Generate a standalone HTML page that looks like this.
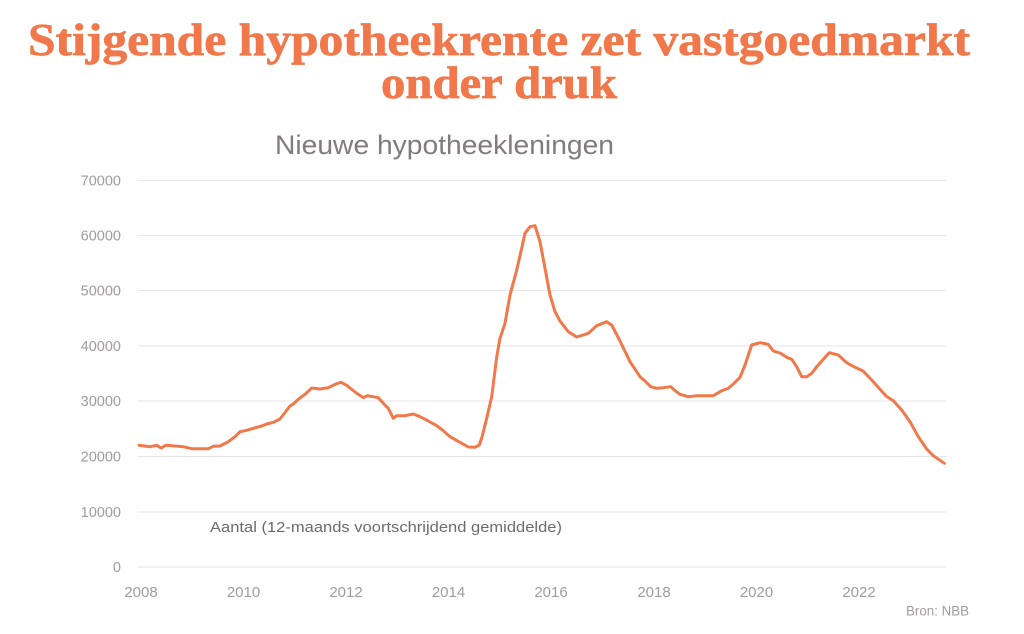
<!DOCTYPE html>
<html>
<head>
<meta charset="utf-8">
<style>
  html,body{margin:0;padding:0;background:#fff;}
  body{width:1024px;height:634px;overflow:hidden;}
  svg{display:block;}
</style>
</head>
<body>
<svg width="1024" height="634" viewBox="0 0 1024 634" xmlns="http://www.w3.org/2000/svg">
  <rect width="1024" height="634" fill="#ffffff"/>
  <!-- Title -->
  <text x="499" y="55" text-anchor="middle" font-family="Liberation Serif, serif" font-weight="bold" font-size="45" fill="#f0784a" stroke="#f0784a" stroke-width="0.7" textLength="942" lengthAdjust="spacingAndGlyphs">Stijgende hypotheekrente zet vastgoedmarkt</text>
  <text x="499" y="98" text-anchor="middle" font-family="Liberation Serif, serif" font-weight="bold" font-size="45" fill="#f0784a" stroke="#f0784a" stroke-width="0.7" textLength="236" lengthAdjust="spacingAndGlyphs">onder druk</text>
  <!-- Subtitle -->
  <text x="275" y="154" font-family="Liberation Sans, sans-serif" font-size="27" fill="#817b7d" textLength="339" lengthAdjust="spacingAndGlyphs">Nieuwe hypotheekleningen</text>

  <!-- Gridlines -->
  <g stroke="#e6e6e6" stroke-width="1">
    <line x1="138" y1="180.5" x2="946" y2="180.5"/>
    <line x1="138" y1="235.5" x2="946" y2="235.5"/>
    <line x1="138" y1="290.5" x2="946" y2="290.5"/>
    <line x1="138" y1="346" x2="946" y2="346"/>
    <line x1="138" y1="401" x2="946" y2="401"/>
    <line x1="138" y1="456.5" x2="946" y2="456.5"/>
    <line x1="138" y1="512" x2="946" y2="512"/>
    <line x1="138" y1="567" x2="946" y2="567"/>
  </g>

  <!-- Y labels -->
  <g font-family="Liberation Sans, sans-serif" font-size="14.5" fill="#a19b9c" text-anchor="end">
    <text x="121" y="185.5">70000</text>
    <text x="121" y="240.5">60000</text>
    <text x="121" y="295.5">50000</text>
    <text x="121" y="351">40000</text>
    <text x="121" y="406">30000</text>
    <text x="121" y="461.5">20000</text>
    <text x="121" y="517">10000</text>
    <text x="121" y="572">0</text>
  </g>

  <!-- X labels -->
  <g font-family="Liberation Sans, sans-serif" font-size="15" fill="#a19b9c" text-anchor="middle">
    <text x="141" y="597">2008</text>
    <text x="243.5" y="597">2010</text>
    <text x="346" y="597">2012</text>
    <text x="448.5" y="597">2014</text>
    <text x="551" y="597">2016</text>
    <text x="654" y="597">2018</text>
    <text x="756.5" y="597">2020</text>
    <text x="859" y="597">2022</text>
  </g>

  <text x="210" y="532" font-family="Liberation Sans, sans-serif" font-size="15" fill="#6f6a6b" textLength="352" lengthAdjust="spacingAndGlyphs">Aantal (12-maands voortschrijdend gemiddelde)</text>
  <text x="906" y="615.5" font-family="Liberation Sans, sans-serif" font-size="13.5" fill="#a19b9c" textLength="63" lengthAdjust="spacingAndGlyphs">Bron: NBB</text>

  <!-- Data line -->
  <polyline fill="none" stroke="#f0784a" stroke-width="3" stroke-linejoin="round" stroke-linecap="round"
    points="139,445.3 150,446.7 156.7,445.3 161,448 166,445.3 183.3,446.7 191.7,448.7 208.3,448.7 213.3,446.3 220,446 228.3,441.7 235,436.7 240,431.7 246.7,430.3 253.3,428.3 261.7,426 266.7,424 273.3,422.3 280,419 285,412.5 290,406 293.3,404 298.3,399.3 305,394.3 311.7,388 320,389 328.3,387.7 335,384.3 341,382.3 346.7,385.3 355,392 363.3,397.7 367.3,395.7 378.3,397.7 383.3,403.3 388.3,408.3 393.3,418.3 396.7,415.7 405,415.7 413.3,414 420,416.7 428.3,421 436.7,425.7 443.3,430.7 450,436.7 460,442.3 468.3,447 475,447.3 479.3,445 482,437 486.7,418.3 491.7,396.7 496.7,357 500,338.3 505,323.3 510,295 516.7,270 521.7,248.3 525,233.3 530,226.7 535,225.7 540,241.7 545,268.3 550,295 555,311.7 560,321 568.3,331.7 576.7,337 588.3,333.3 596.7,325.7 606.7,321.7 611.7,325 620,341 630,361.7 640,376.7 645,381 650.7,386.7 656.7,388.3 663.3,387.7 670.7,386.7 675,390.7 680,394.3 688.3,396.7 696.7,395.7 713.3,395.7 721.7,390.7 728.3,388.3 733.3,384 740,377.3 745,365 751.7,345 760,342.7 768.3,344.3 773.3,351 780,353 786.7,357.3 791.7,359.3 796.7,366.7 801.7,376.7 806.7,376.7 811.7,373.3 816.7,366.7 823.3,359.3 829.3,352.7 838.3,355 846.7,362.7 855,367.3 862.7,370.7 871.7,380 880,389.3 886,396 893.3,400.7 901.7,410 910,421.7 918.3,436.7 926.7,449 933.3,455.7 944.3,463.3"/>
</svg>
</body>
</html>
